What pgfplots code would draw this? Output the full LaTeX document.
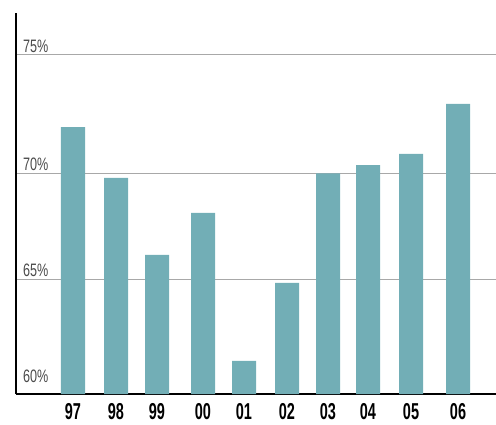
\documentclass[border=0pt]{standalone}
\usepackage{fontspec}
\usepackage{pgfplots}
\pgfplotsset{compat=1.18}
\newfontfamily\ylabfont[FakeStretch=0.7]{Liberation Sans}
\newfontfamily\xlabfont[FakeStretch=0.63]{Liberation Sans}
\definecolor{Cbar}{HTML}{72AEB6}
\definecolor{Cgrid}{HTML}{A8A8A8}
\definecolor{Ctxt}{HTML}{4A4A4A}

\begin{document}
\begin{tikzpicture}
\useasboundingbox (0,0) rectangle (496pt,424pt);
\begin{axis}[
  at={(16pt,30pt)}, anchor=south west,
  scale only axis,
  width=480pt, height=381pt,
  xmin=16, xmax=496,
  ymin=59.59, ymax=77.56,
  ybar, bar width=24pt, bar shift=0pt,
  axis x line*=bottom, axis y line*=left,
  axis line style={-, line width=2pt, black},
  major tick length=0pt,
  xtick={73,116,157,203,244,287,328,368,411,458},
  xticklabels={97,98,99,00,01,02,03,04,05,06},
  xticklabel style={anchor=north, inner sep=0pt, yshift=-9pt,
    font=\xlabfont\bfseries\fontsize{23}{23}\selectfont, text=black},
  ytick={65,70,75.58},
  yticklabels={65\%,70\%,75\%},
  extra y ticks={60},
  extra y tick labels={60\%},
  extra y tick style={grid=none},
  yticklabel style={anchor=south west, inner sep=0pt, xshift=7pt, yshift=2.5pt,
    font=\ylabfont\fontsize{18}{18}\selectfont, text=Ctxt},
  ymajorgrids=true,
  grid style={Cgrid, line width=1pt},
]
\addplot[fill=Cbar, draw=none] coordinates {
  (73,72.18) (116,69.78) (157,66.15) (203,68.13) (244,61.15)
  (287,64.83) (328,70.00) (368,70.39) (411,70.91) (458,73.27)
};
\end{axis}
\end{tikzpicture}
\end{document}
